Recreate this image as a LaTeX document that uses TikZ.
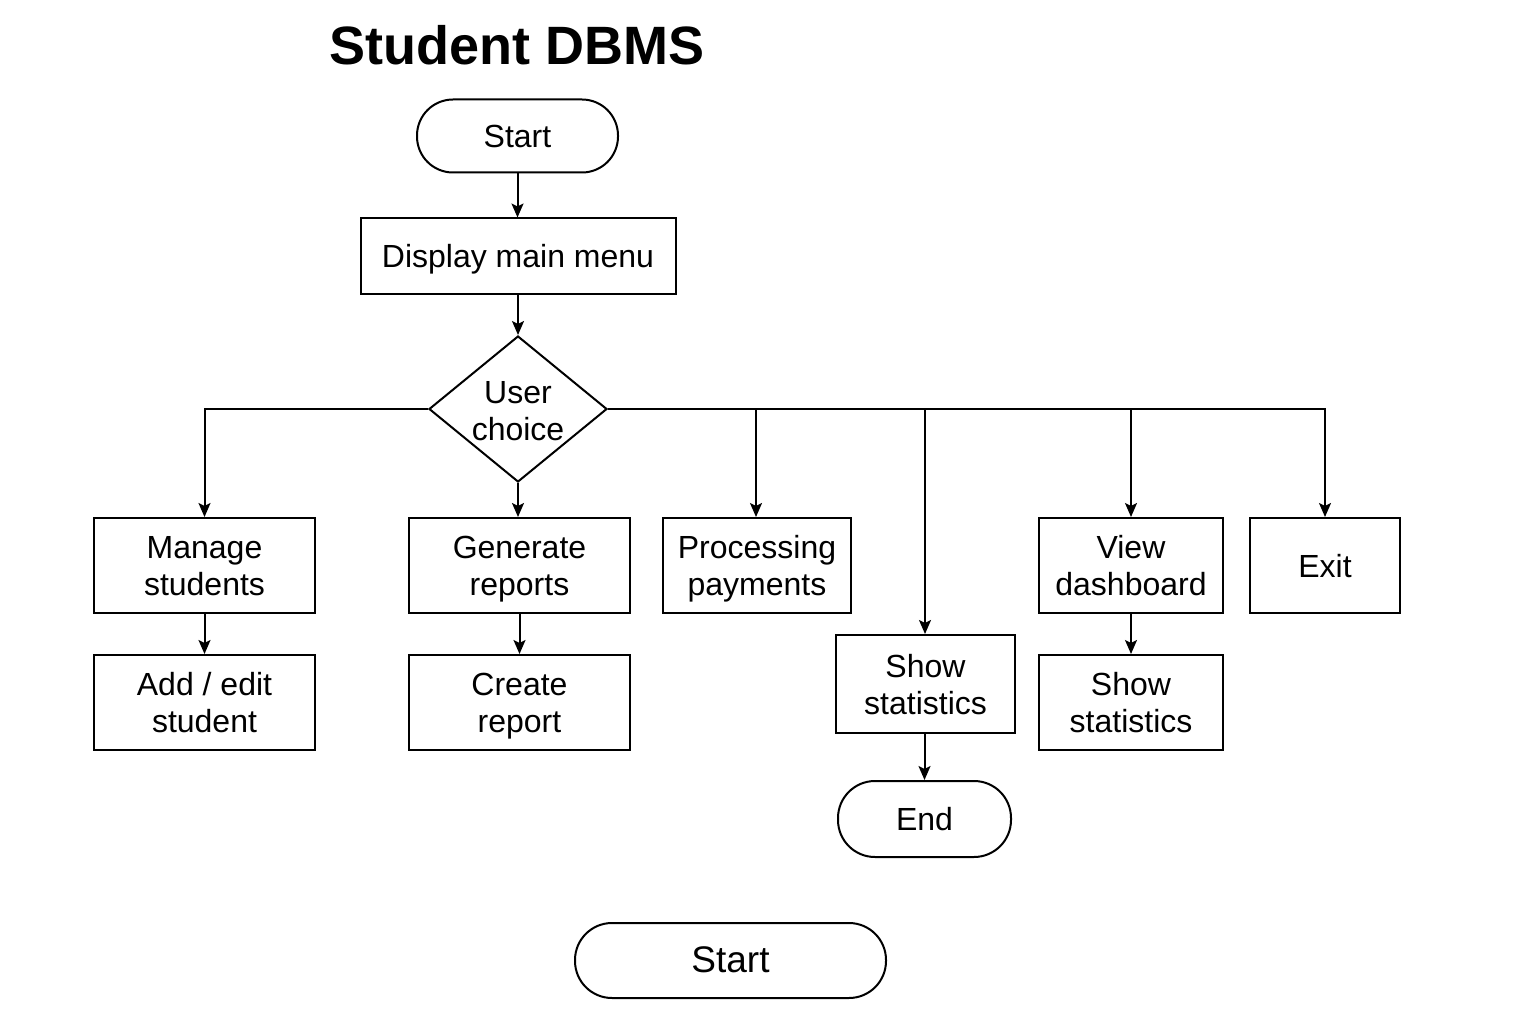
\documentclass[tikz,border=0pt]{standalone}
\usepackage{fontspec}
\setmainfont{Liberation Sans}
\usetikzlibrary{shapes.geometric,arrows.meta}
\newcommand\tl{\rule[-7pt]{0pt}{37pt}}
\begin{document}
\begin{tikzpicture}[x=1pt,y=-1pt,
  every node/.style={font=\fontsize{32}{37}\selectfont, align=center, inner sep=0pt},
  box/.style={draw, line width=2pt},
  term/.style={draw, line width=2pt, rounded corners=36pt},
  dia/.style={draw, diamond, line width=2pt, aspect=1.22, minimum width=178pt, minimum height=146pt},
  arr/.style={line width=2pt, -{Stealth[length=14pt,width=12pt,inset=3pt]}}]
\useasboundingbox (0,0) rectangle (1536,1024);
\fill[white] (0,0) rectangle (1536,1024);
\node[font=\fontsize{54}{60}\bfseries] (title) at (517,45) {Student DBMS};
\node[term, minimum width=201pt, minimum height=73pt] (start) at (517.5,136) {\tl Start};
\node[box, minimum width=315pt, minimum height=75pt] (menu) at (518,256) {\tl Display main menu};
\node[dia] (choice) at (518,409) {\rule{0pt}{26pt}User\\choice};
\node[box, minimum width=221pt, minimum height=95pt] (manage) at (204.5,565.5) {\tl Manage\\\tl students};
\node[box, minimum width=221pt, minimum height=95pt] (addedit) at (204.5,702.5) {\tl Add / edit\\\tl student};
\node[box, minimum width=221pt, minimum height=95pt] (generate) at (519.5,565.5) {\tl Generate\\\tl reports};
\node[box, minimum width=221pt, minimum height=95pt] (create) at (519.5,702.5) {\tl Create\\\tl report};
\node[box, minimum width=188pt, minimum height=95pt] (payments) at (757,565.5) {\tl Processing\\\tl payments};
\node[box, minimum width=179pt, minimum height=98pt] (stats1) at (925.5,684) {\tl Show\\\tl statistics};
\node[term, minimum width=173pt, minimum height=76pt, rounded corners=37pt] (end) at (924.5,819) {\tl End};
\node[box, minimum width=184pt, minimum height=95pt] (dash) at (1131,565.5) {\tl View\\\tl dashboard};
\node[box, minimum width=184pt, minimum height=95pt] (stats2) at (1131,702.5) {\tl Show\\\tl statistics};
\node[box, minimum width=150pt, minimum height=95pt] (exit) at (1325,565.5) {\tl Exit};
\node[term, minimum width=311pt, minimum height=75pt, rounded corners=37pt, font=\fontsize{37}{42}\selectfont] (start2) at (730.5,960.5) {\rule[-8pt]{0pt}{40pt}Start};
\coordinate (jpay) at (756,409);
\coordinate (jstat) at (925,409);
\coordinate (jdash) at (1131,409);
\coordinate (jexit) at (1325,409);
\draw[arr] (start) -- (start |- menu.north);
\draw[arr] (menu) -- (menu |- choice.north);
\draw[arr] (choice.south) -- (choice.south |- generate.north);
\draw[arr] (choice.west) -| (manage.north);
\draw[arr] (choice.east) -- (jexit) -- (exit.north);
\draw[arr] (jpay) -- (jpay |- payments.north);
\draw[arr] (jstat) -- (jstat |- stats1.north);
\draw[arr] (jdash) -- (dash.north);
\draw[arr] (manage) -- (addedit);
\draw[arr] (generate) -- (create);
\draw[arr] (dash) -- (stats2);
\draw[arr] (stats1.south -| end.north) -- (end.north);
\end{tikzpicture}
\end{document}
